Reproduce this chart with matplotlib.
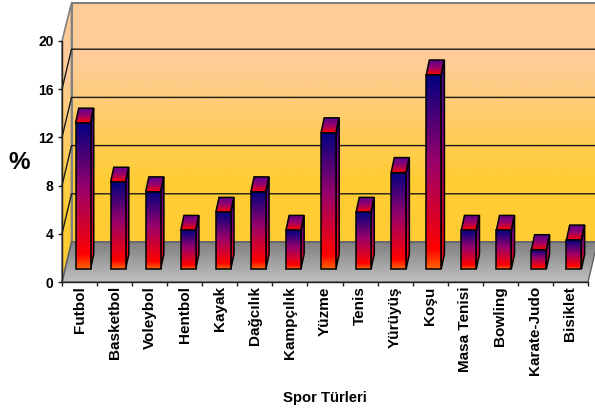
import numpy as np
import matplotlib
matplotlib.use('Agg')
import matplotlib.pyplot as plt
from matplotlib.colors import LinearSegmentedColormap
from matplotlib.patches import Polygon

plt.rcParams['font.family'] = ['Liberation Sans', 'DejaVu Sans']

###################### data ######################
sports = ['Futbol', 'Basketbol', 'Voleybol', 'Hentbol', 'Kayak', 'Dağcılık', 'Kampçılık', 'Yüzme',
          'Tenis', 'Yürüyüş', 'Koşu', 'Masa Tenisi', 'Bowling', 'Karate-Judo', 'Bisiklet']
percent = [12.1, 7.2, 6.4, 3.2, 4.7, 6.4, 3.2, 11.3, 4.7, 8.0, 16.1, 3.2, 3.2, 1.6, 2.4]
y_ticks = [0, 4, 8, 12, 16, 20]

###################### fake 3d geometry, in pixels ####################
W, H = 595, 415
left, right, y0, y20 = 62, 588, 282, 41
px_x = (right - left) / 15
px_y = (y0 - y20) / 20
wall_dx, wall_dy = 9.5 / px_x, 40 / px_y       # floor depth
wall_top = 38 / px_y                           # top edge of the wall comes out a bit short
base_dx, base_dy = 3.5 / px_x, 13 / px_y       # bar sits this far back
bar_dx, bar_dy = 3.2 / px_x, 15 / px_y         # bar depth
bar_w = 15 / px_x

wall_cm = LinearSegmentedColormap.from_list('wall', ['#FFCC33', '#FFCC33', '#FFCC66', '#FFCC99', '#FFCC99'])
floor_cm = LinearSegmentedColormap.from_list('floor', ['#C0C0C0', '#808080'])
bar_cm = LinearSegmentedColormap.from_list('bar', [(0, '#FF6600'), (0.1, '#FF0000'), (0.55, '#99006B'), (1, '#000080')])
top_cm = LinearSegmentedColormap.from_list('top', ['#FF0000', '#99006B', '#5A0090'])
side_cm = LinearSegmentedColormap.from_list('side', [(0, '#FF0000'), (0.2, '#F00020'), (0.6, '#8A0080'), (1, '#400090')])

fig = plt.figure(figsize=(W / 100, H / 100), dpi=100)
ax = fig.add_axes([left / W, 1 - y0 / H, (right - left) / W, (y0 - y20) / H])
ax.set_facecolor('none')


def grad(pts, cmap, z, edge='black', lw=1.1):
    # vertical gradient clipped to a polygon
    pts = np.array(pts)
    poly = Polygon(pts, closed=True, facecolor='none', edgecolor=edge, linewidth=lw, zorder=z + 0.1, clip_on=False)
    ax.add_patch(poly)
    g = np.linspace(0, 1, 256).reshape(-1, 1)
    im = ax.imshow(g, origin='lower', aspect='auto', cmap=cmap, vmin=0, vmax=1, zorder=z,
                   extent=(pts[:, 0].min(), pts[:, 0].max(), pts[:, 1].min(), pts[:, 1].max()))
    im.set_clip_box(fig.bbox)
    im.set_clip_path(Polygon(pts, closed=True, transform=ax.transData))


x0, x1 = -0.5, 14.5
top = y_ticks[-1]
# back wall, left wall, floor
grad([(x0 + wall_dx, wall_dy), (x1 + wall_dx, wall_dy), (x1 + wall_dx, top + wall_top), (x0 + wall_dx, top + wall_top)],
     wall_cm, 1, edge='#808080', lw=1.5)
grad([(x0, 0), (x0 + wall_dx, wall_dy), (x0 + wall_dx, top + wall_top), (x0, top)], wall_cm, 1, edge='#808080', lw=1.2)
grad([(x0, 0), (x1, 0), (x1 + wall_dx, wall_dy), (x0 + wall_dx, wall_dy)], floor_cm, 1, edge='#606060', lw=1.0)

# gridlines on walls
for v in y_ticks[1:-1]:
    ax.plot([x0, x0 + wall_dx, x1 + wall_dx], [v, v + wall_dy, v + wall_dy], color='#1a1a1a', lw=1.0, zorder=2, clip_on=False)

# bars
for i, v in enumerate(percent):
    a = i - bar_w / 2 + base_dx
    b = a + bar_w
    y_b = base_dy
    y_t = base_dy + v
    grad([(b, y_b), (b + bar_dx, y_b + bar_dy), (b + bar_dx, y_t + bar_dy), (b, y_t)], side_cm, 3)
    grad([(a, y_t), (b, y_t), (b + bar_dx, y_t + bar_dy), (a + bar_dx, y_t + bar_dy)], top_cm, 3)
    grad([(a, y_b), (b, y_b), (b, y_t), (a, y_t)], bar_cm, 3.5)

ax.set_xlim(x0, x1)
ax.set_ylim(0, top)
for s in ['top', 'right']:
    ax.spines[s].set_visible(False)
for s in ['left', 'bottom']:
    ax.spines[s].set_color('#222222')
    ax.spines[s].set_linewidth(1.0)
ax.set_yticks(y_ticks)
ax.set_yticklabels([str(v) for v in y_ticks], fontsize=10, fontweight='bold')
ax.set_xticks(range(len(sports)))
ax.set_xticklabels(sports, rotation=90, fontsize=11, fontweight='bold')
ax.set_xticks(np.arange(x0, x1 + 1), minor=True)
ax.tick_params(axis='x', which='major', length=0, pad=3)
ax.tick_params(axis='x', which='minor', length=3, width=1, color='#222222')
ax.tick_params(axis='y', length=3, width=1, color='#222222', pad=3)

fig.text(19.5 / W, 1 - 162 / H, '%', fontsize=17.5, fontweight='bold', ha='center', va='center')
fig.text(325 / W, 1 - 398 / H, 'Spor Türleri', fontsize=10.7, fontweight='bold', ha='center', va='center')

fig.savefig('out.png', dpi=100)
